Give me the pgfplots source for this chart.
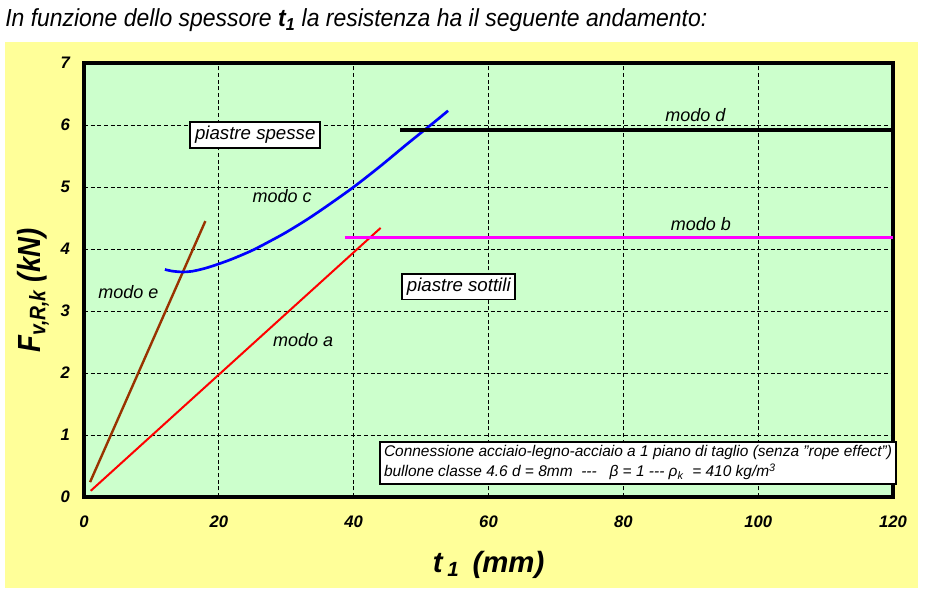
\documentclass[border=0pt]{standalone}
\usepackage{pgfplots}
\pgfplotsset{compat=1.18}
\usepackage{fontspec}
\setmainfont{Liberation Sans}
\usepackage{graphicx}
\definecolor{bgyellow}{RGB}{255,255,153}
\definecolor{plotgreen}{RGB}{204,255,204}
\definecolor{brownline}{RGB}{153,51,0}
\definecolor{magline}{RGB}{255,0,255}
\begin{document}
\begin{tikzpicture}
\path[use as bounding box] (-63pt,-72pt) rectangle (633pt,372.75pt);
\fill[bgyellow] (-59.25pt,-68.25pt) rectangle (625.5pt,341.25pt);
\node[anchor=base west,inner sep=0pt] at (-59.25pt,353pt) {\scalebox{0.93}[1]{\fontsize{18.5pt}{20pt}\selectfont\itshape In funzione dello spessore \textbf{t\textsubscript{1}} la resistenza ha il seguente andamento:}};
\begin{axis}[
  scale only axis,
  width=606.75pt, height=325.5pt,
  xmin=0, xmax=120, ymin=0, ymax=7,
  xtick={0,20,...,120}, ytick={0,1,...,7},
  axis background/.style={fill=plotgreen},
  axis line style={line width=2.4pt},
  major tick length=0pt,
  grid=major,
  major grid style={black, line width=0.6pt, dash pattern=on 3pt off 2pt},
  /pgf/number format/assume math mode=true,
  ticklabel style={font=\fontsize{12.5pt}{14pt}\selectfont\bfseries\itshape},
  xticklabel style={yshift=-10.5pt},
  yticklabel style={xshift=-7pt},
  clip=false,
]
\addplot[red, line width=1.5pt] coordinates {(1,0.1) (44,4.34)};
\addplot[brownline, line width=1.8pt] coordinates {(0.9,0.24) (18,4.45)};
\addplot[blue, line width=2pt, smooth] coordinates {
(12,3.67) (13,3.645) (14.5,3.63) (16,3.64) (18,3.69) (20,3.76) (22,3.84) (25,3.98) (28,4.15) (30,4.27) (33,4.47) (36,4.69) (40,5.0) (44,5.34) (48,5.7) (52,6.05) (54,6.23)};
\addplot[magline, line width=2.4pt] coordinates {(38.7,4.18) (120,4.18)};
\addplot[black, line width=2.4pt] coordinates {(46.9,5.92) (120,5.92)};

\node[font=\fontsize{13.5pt}{15pt}\selectfont\itshape] at (axis cs:29.4,4.85) {modo c};
\node[font=\fontsize{13.5pt}{15pt}\selectfont\itshape] at (axis cs:90.7,6.16) {modo d};
\node[font=\fontsize{13.5pt}{15pt}\selectfont\itshape] at (axis cs:91.5,4.40) {modo b};
\node[font=\fontsize{13.5pt}{15pt}\selectfont\itshape] at (axis cs:6.6,3.31) {modo e};
\node[font=\fontsize{13.5pt}{15pt}\selectfont\itshape] at (axis cs:32.5,2.53) {modo a};
\node[draw=black, line width=1.4pt, fill=white, inner xsep=3.5pt, inner ysep=3pt, font=\fontsize{14pt}{16pt}\selectfont\itshape] at (axis cs:25.4,5.84) {piastre spesse};
\node[draw=black, line width=1.4pt, fill=white, inner xsep=3.5pt, inner ysep=3pt, font=\fontsize{14pt}{16pt}\selectfont\itshape] at (axis cs:55.6,3.39) {piastre sottili};
\node[draw=black, line width=1.4pt, fill=white, inner sep=3pt, anchor=east, align=left, font=\fontsize{11.6pt}{15pt}\selectfont\itshape] at (axis cs:120.6,0.55) {Connessione acciaio-legno-acciaio a 1 piano di taglio (senza "rope effect")\\bullone classe 4.6 d = 8mm~~{-}{-}{-}~~~β = 1 {-}{-}{-} ρ\textsubscript{k}~ = 410 kg/m\textsuperscript{3}};
\end{axis}
\node[anchor=base, font=\fontsize{22pt}{24pt}\selectfont\bfseries\itshape] at (303.4pt,-56.5pt) {t\,\textsubscript{1}\ \,(mm)};
\node[rotate=90, anchor=center] at (-38.25pt,155pt) {\scalebox{0.86}[1]{\fontsize{24pt}{26pt}\selectfont\bfseries\itshape F\textsubscript{v,R,k} (kN)}};
\end{tikzpicture}
\end{document}
